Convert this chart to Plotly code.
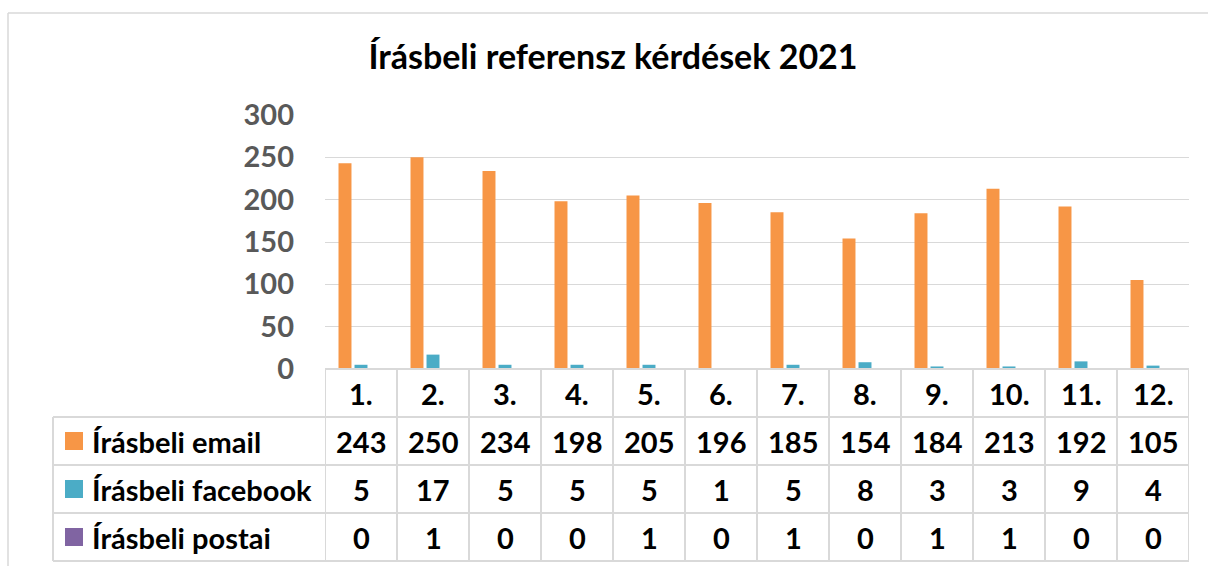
import plotly.graph_objects as go

months = ["1.", "2.", "3.", "4.", "5.", "6.", "7.", "8.", "9.", "10.", "11.", "12."]
email = [243, 250, 234, 198, 205, 196, 185, 154, 184, 213, 192, 105]
facebook = [5, 17, 5, 5, 5, 1, 5, 8, 3, 3, 9, 4]
postai = [0, 1, 0, 0, 1, 0, 1, 0, 1, 1, 0, 0]
series_names = ["Írásbeli email", "Írásbeli facebook", "Írásbeli postai"]
colors = ["#F79646", "#4BACC6", "#8064A2"]
title_text = "Írásbeli referensz kérdések 2021"

W, H = 1208, 566
L, R, T, B = 325, 1189, 115, 369
PW, PH = R - L, B - T

def px(x):
    return (x - L) / PW

def py(y):
    return (B - y) / PH

FONT = "Lato"
GRID = "#d9d9d9"
TS = 29

fig = go.Figure()
xs = list(range(len(months)))
for name, vals, c in zip(series_names, [email, facebook, postai], colors):
    fig.add_trace(go.Bar(x=xs, y=vals, name=name, marker=dict(color=c, line=dict(width=0))))

shapes = []
annotations = []

# outer chart border
shapes.append(dict(type="line", xref="paper", yref="paper", x0=px(8), x1=px(1210), y0=py(13), y1=py(13),
                   line=dict(color=GRID, width=1.5)))
shapes.append(dict(type="line", xref="paper", yref="paper", x0=px(8), x1=px(8), y0=py(13), y1=py(568),
                   line=dict(color=GRID, width=1.5)))

row_tops = [369, 417, 465, 513, 561]
shapes.append(dict(type="line", xref="paper", yref="paper", x0=0, x1=1, y0=py(369), y1=py(369),
                   line=dict(color=GRID, width=2)))
for yy in row_tops[1:]:
    shapes.append(dict(type="line", xref="paper", yref="paper", x0=px(53), x1=1, y0=py(yy), y1=py(yy),
                       line=dict(color=GRID, width=2)))
for i in range(len(months) + 1):
    shapes.append(dict(type="line", xref="x", yref="paper", x0=i - 0.5, x1=i - 0.5, y0=py(369), y1=py(561),
                       line=dict(color=GRID, width=2)))
shapes.append(dict(type="line", xref="paper", yref="paper", x0=px(53), x1=px(53), y0=py(417), y1=py(561),
                   line=dict(color=GRID, width=2)))

for i, m in enumerate(months):
    annotations.append(dict(x=i, y=py(393), xref="x", yref="paper", text=m, showarrow=False,
                            font=dict(family=FONT, size=TS, color="black", weight="bold"),
                            xanchor="center", yanchor="middle"))
for r, (name, vals, c) in enumerate(zip(series_names, [email, facebook, postai], colors)):
    yc = (row_tops[r + 1] + row_tops[r + 2]) / 2
    for i, v in enumerate(vals):
        annotations.append(dict(x=i, y=py(yc), xref="x", yref="paper", text=str(v), showarrow=False,
                                font=dict(family=FONT, size=TS, color="black", weight="bold"),
                                xanchor="center", yanchor="middle"))
    shapes.append(dict(type="rect", xref="paper", yref="paper", x0=px(65), x1=px(83),
                       y0=py(yc - 9), y1=py(yc + 9), fillcolor=c, line=dict(width=0)))
    annotations.append(dict(x=px(90), y=py(yc), xref="paper", yref="paper", text=name, showarrow=False,
                            font=dict(family=FONT, size=TS, color="black", weight="bold"),
                            xanchor="left", yanchor="middle"))

fig.update_layout(
    width=W, height=H,
    margin=dict(l=L, r=W - R, t=T, b=H - B, pad=0),
    paper_bgcolor="white", plot_bgcolor="white",
    barmode="group", bargap=0.333, bargroupgap=0.19,
    showlegend=False,
    title=dict(text=title_text, x=613 / W, xanchor="center", xref="container",
               y=1 - 57 / H, yanchor="middle", yref="container",
               font=dict(family=FONT, size=34, color="black", weight="bold")),
    xaxis=dict(range=[-0.5, len(months) - 0.5], showticklabels=False, showgrid=False,
               zeroline=False, showline=False, ticks=""),
    yaxis=dict(range=[0, 300], dtick=50, showgrid=True, gridcolor=GRID, gridwidth=1,
               zeroline=False, showline=False, ticks="", ticklabelstandoff=30,
               tickfont=dict(family=FONT, size=TS, color="#595959", weight="bold")),
    shapes=shapes, annotations=annotations,
)

fig.write_html("out.html", config={"displayModeBar": False},
               post_script="document.body.style.margin='0';document.body.style.overflow='hidden';")
